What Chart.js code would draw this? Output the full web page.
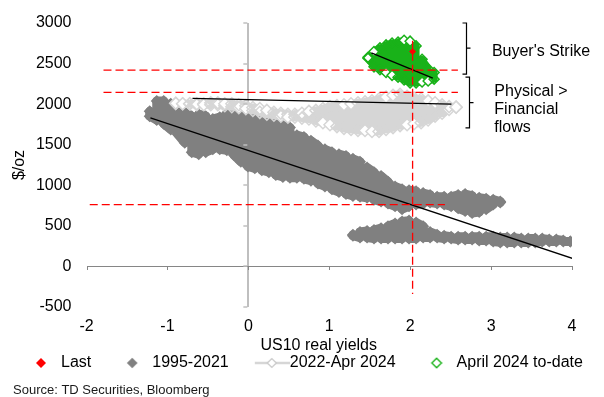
<!DOCTYPE html>
<html><head><meta charset="utf-8">
<script src="https://cdn.jsdelivr.net/npm/chart.js@4.4.1/dist/chart.umd.min.js"></script>
<style>html,body{margin:0;padding:0;background:#fff;}canvas{display:block;}</style>
</head><body>
<canvas id="c" width="604" height="397" style="width:604px;height:397px"></canvas>
<script>
const FONT = "'Liberation Sans', Arial, sans-serif";
Chart.defaults.font.family = FONT;
Chart.defaults.font.size = 16;
Chart.defaults.color = '#000';

// ---------- data ----------
const xTicks = [-2, -1, 0, 1, 2, 3, 4];
const yTicks = [-500, 0, 500, 1000, 1500, 2000, 2500, 3000];
const seriesNames = ['Last', '1995-2021', '2022-Apr 2024', 'April 2024 to-date'];

const lastPoint = [[2.03, 2648]];

// cloud readings: [real yield, upper gold level, lower gold level] per yield slice
const gold9521Upper = [[-1.219,1911,1852],[-1.132,2039,1805],[-1.046,2039,1758],[-0.959,2004,1688],[-0.873,1969,1630],[-0.786,1899,1525],[-0.699,1852,1408],[-0.613,1876,1384],[-0.526,1852,1408],[-0.439,1817,1443],[-0.353,1840,1443],[-0.266,1887,1431],[-0.179,1911,1372],[-0.093,1934,1291],[-0.006,1934,1232],[0.080,1911,1209],[0.167,1864,1185],[0.254,1817,1162],[0.340,1770,1127],[0.427,1735,1103],[0.514,1712,1092],[0.600,1618,1092],[0.687,1595,1080],[0.774,1548,1057],[0.860,1489,1021],[0.947,1443,986],[1.033,1408,951],[1.120,1384,916],[1.207,1361,893],[1.293,1326,869],[1.380,1291,858],[1.467,1220,846],[1.553,1162,823],[1.640,1115,799],[1.726,1045,776],[1.813,986,741],[1.900,951,706],[1.986,940,741],[2.073,928,764],[2.160,904,776],[2.246,881,787],[2.333,858,776],[2.420,858,764],[2.506,858,741],[2.593,881,717],[2.679,893,682],[2.766,869,659],[2.853,846,670],[2.939,834,706],[3.026,823,764],[3.113,799,787]];

const gold9521Lower = [[1.293,390,378],[1.380,425,355],[1.467,436,355],[1.553,448,343],[1.640,472,343],[1.726,495,343],[1.813,530,343],[1.900,553,343],[1.986,565,343],[2.073,542,343],[2.160,495,355],[2.246,425,355],[2.333,390,355],[2.420,378,343],[2.506,366,343],[2.593,366,331],[2.679,366,331],[2.766,366,331],[2.853,366,319],[2.939,366,319],[3.026,366,308],[3.113,355,296],[3.199,355,296],[3.286,355,296],[3.373,343,296],[3.459,343,296],[3.546,343,296],[3.632,343,308],[3.719,331,308],[3.806,331,308],[3.892,319,308],[3.979,308,308]];

const gold22Apr24 = [[-0.897,2010,2010],[-0.811,2005,2005],[-0.724,2005,2004],[-0.637,2005,1992],[-0.551,2005,1992],[-0.464,2016,1992],[-0.377,2016,1992],[-0.291,2005,1980],[-0.204,2005,1969],[-0.118,1993,1957],[-0.031,1981,1945],[0.056,1958,1922],[0.142,1946,1899],[0.229,1923,1875],[0.316,1899,1863],[0.402,1888,1852],[0.489,1876,1840],[0.575,1876,1840],[0.662,1888,1828],[0.749,1911,1817],[0.835,1923,1793],[0.922,1946,1770],[1.009,1970,1746],[1.095,1981,1723],[1.182,1993,1700],[1.269,2005,1688],[1.355,2016,1676],[1.442,2028,1676],[1.528,2040,1664],[1.615,2063,1664],[1.702,2087,1688],[1.788,2110,1711],[1.875,2122,1735],[1.962,2098,1746],[2.048,2075,1758],[2.135,2063,1770],[2.222,2040,1805],[2.308,2016,1852],[2.395,1993,1887],[2.481,1970,1934],[2.568,1963,1963]];

const goldApr24 = [[1.479,2577,2565],[1.553,2648,2460],[1.627,2694,2425],[1.702,2730,2390],[1.776,2753,2355],[1.850,2765,2332],[1.925,2788,2297],[1.999,2776,2262],[2.073,2718,2262],[2.147,2554,2273],[2.222,2437,2285],[2.296,2390,2308]];

const trend9521 = [[-1.21, 1830], [4.01, 97]];
const trend22Apr24 = [[-0.69, 2071], [2.51, 2000]];
const trendApr24 = [[1.52, 2633], [2.28, 2320]];

const buyersStrikeLevel = [[-1.79, 2420], [2.59, 2420]];
const physicalLevel = [[-1.79, 2145], [2.59, 2145]];
const fairValueLevel = [[-1.96, 762], [2.43, 762]];
const lastYieldLevel = [[2.03, 2780], [2.03, -340]];

const brackets = [
  {x: 2.69, top: 3000, mid: 2690, bottom: 2370},
  {x: 2.733, top: 2332, mid: 2019, bottom: 1708}
];
const notes = [
  {x: 3.01, y: 2651, text: "Buyer's Strike"},
  {x: 3.04, y: 2160, text: 'Physical >'},
  {x: 3.04, y: 1938, text: 'Financial'},
  {x: 3.04, y: 1716, text: 'flows'}
];
const xTitle = {x: 0.87, text: 'US10 real yields'};
const yTitle = '$/oz';
const sourceText = 'Source: TD Securities, Bloomberg';

// ---------- styling ----------
const DARK = '#808080', LIGHT = '#d6d6d6', GREEN = '#19b219', RED = '#ff0000';
const CLEAR = 'rgba(255,255,255,0)';
const pts = a => a.map(([x, y]) => ({x, y}));
// walk each cloud slice top->bottom, then bottom->top on the next slice
const snake = cols => cols.flatMap(([x, t, b], i) => i % 2 ? [{x, y: b}, {x, y: t}] : [{x, y: t}, {x, y: b}]);
const hollowEvery = n => c => (c.dataIndex % n === 0) ? '#ffffff' : CLEAR;

function legendImg(w, cx, half, fill, stroke, lw, line) {
  const c = document.createElement('canvas');
  c.width = w; c.height = 14;
  const g = c.getContext('2d'); const cy = 7;
  if (line) { g.strokeStyle = line.color; g.lineWidth = line.width; g.beginPath(); g.moveTo(line.from, cy); g.lineTo(line.to, cy); g.stroke(); }
  g.beginPath(); g.moveTo(cx - half, cy); g.lineTo(cx, cy - half); g.lineTo(cx + half, cy); g.lineTo(cx, cy + half); g.closePath();
  if (fill) { g.fillStyle = fill; g.fill(); }
  if (stroke) { g.strokeStyle = stroke; g.lineWidth = lw; g.stroke(); }
  return c;
}
const legendImgs = [
  legendImg(28, 22, 5, RED),
  legendImg(28, 22, 5.3, DARK),
  legendImg(56, 38, 4.5, '#fff', '#c8c8c8', 1.2, {color: LIGHT, width: 2.5, from: 21, to: 56}),
  legendImg(28, 22, 4.8, '#fff', GREEN, 1.3)
];

const lineDs = (data, color, width, dash, order) => ({
  data: pts(data), showLine: true, borderColor: color, borderWidth: width,
  borderDash: dash, pointRadius: 0, order: order
});

const overlay = {
  id: 'overlay',
  afterDraw(chart) {
    const {ctx} = chart; const xs = chart.scales.x, ys = chart.scales.y;
    const x0 = xs.getPixelForValue(0), y0 = Math.round(ys.getPixelForValue(0));
    ctx.save();
    ctx.lineWidth = 1; ctx.strokeStyle = '#868686';
    xTicks.forEach(v => { const p = Math.round(xs.getPixelForValue(v)) + 0.5; ctx.beginPath(); ctx.moveTo(p, y0); ctx.lineTo(p, y0 + 4); ctx.stroke(); });
    ctx.lineWidth = 1.5; ctx.strokeStyle = '#bfbfbf';
    yTicks.forEach(v => { const p = Math.round(ys.getPixelForValue(v)); ctx.beginPath(); ctx.moveTo(x0 - 5, p); ctx.lineTo(x0 - 1, p); ctx.stroke(); });
    ctx.strokeStyle = '#000'; ctx.lineWidth = 1.2;
    brackets.forEach(b => {
      const px = Math.round(xs.getPixelForValue(b.x)) + 0.5;
      const t = ys.getPixelForValue(b.top), m = ys.getPixelForValue(b.mid), bt = ys.getPixelForValue(b.bottom);
      ctx.beginPath(); ctx.moveTo(px - 4, t); ctx.lineTo(px, t); ctx.lineTo(px, bt); ctx.lineTo(px - 4, bt);
      ctx.moveTo(px, m); ctx.lineTo(px + 4, m); ctx.stroke();
    });
    ctx.fillStyle = '#000'; ctx.font = '16px ' + FONT; ctx.textBaseline = 'middle'; ctx.textAlign = 'left';
    notes.forEach(n => ctx.fillText(n.text, xs.getPixelForValue(n.x), ys.getPixelForValue(n.y)));
    ctx.textAlign = 'center';
    ctx.fillText(xTitle.text, xs.getPixelForValue(xTitle.x), xs.bottom + 4);
    ctx.font = '13px ' + FONT; ctx.textAlign = 'left'; ctx.fillStyle = '#1a1a1a';
    ctx.fillText(sourceText, 13, chart.height - 6.3);
    ctx.restore();
  }
};

new Chart(document.getElementById('c'), {
  type: 'scatter',
  data: {
    datasets: [
      {label: seriesNames[0], data: pts(lastPoint), pointStyle: 'rectRot', pointRadius: 3.5,
       backgroundColor: RED, borderColor: RED, pointBorderWidth: 0, order: 0},
      {label: seriesNames[1], data: [...snake(gold9521Upper), {x: null, y: null}, ...snake(gold9521Lower)],
       showLine: true, spanGaps: false, borderColor: DARK, backgroundColor: DARK, borderWidth: 9,
       borderJoinStyle: 'round', borderCapStyle: 'round', pointStyle: 'rectRot', pointRadius: 6,
       pointBorderWidth: 0, pointBackgroundColor: DARK, order: 5},
      {label: seriesNames[2], data: snake(gold22Apr24), showLine: true, borderColor: LIGHT, borderWidth: 8,
       borderJoinStyle: 'round', borderCapStyle: 'round', pointStyle: 'rectRot', pointRadius: 6,
       pointBorderWidth: 1.5, pointBorderColor: LIGHT, pointBackgroundColor: hollowEvery(3), order: 4},
      {label: seriesNames[3], data: snake(goldApr24), showLine: true, borderColor: GREEN, borderWidth: 7,
       borderJoinStyle: 'round', borderCapStyle: 'round', pointStyle: 'rectRot', pointRadius: 5,
       pointBorderWidth: 1.5, pointBorderColor: GREEN, pointBackgroundColor: hollowEvery(3), order: 3},
      lineDs(trend9521, '#000', 1.3, [], 2),
      lineDs(trend22Apr24, '#000', 1.3, [], 2),
      lineDs(trendApr24, '#000', 1.3, [], 2),
      lineDs(buyersStrikeLevel, RED, 1.3, [8, 4], 1),
      lineDs(physicalLevel, RED, 1.3, [8, 4], 1),
      lineDs(fairValueLevel, RED, 1.3, [8, 4], 1),
      lineDs(lastYieldLevel, RED, 1.3, [8, 4], 1)
    ]
  },
  options: {
    responsive: false, animation: false, devicePixelRatio: 1, events: [],
    layout: {padding: {left: 0, right: 0, top: 0, bottom: 16}},
    scales: {
      x: {
        type: 'linear', min: -2, max: 4, z: 1,
        ticks: {stepSize: 1, padding: 12, color: '#000', font: {size: 16, lineHeight: 1}, callback: v => String(v)},
        grid: {drawTicks: false,
               color: c => (c.tick && c.tick.value === 0) ? '#bfbfbf' : 'rgba(0,0,0,0)',
               lineWidth: c => (c.tick && c.tick.value === 0) ? 2 : 0},
        border: {display: false},
        afterFit: s => { s.height = 35; }
      },
      y: {
        type: 'linear', min: -500, max: 3000,
        ticks: {stepSize: 500, padding: 15, color: '#000', font: {size: 16, lineHeight: 1}, callback: v => String(v)},
        grid: {drawTicks: false,
               color: c => (c.tick && c.tick.value === 0) ? '#868686' : 'rgba(0,0,0,0)',
               lineWidth: c => (c.tick && c.tick.value === 0) ? 1 : 0},
        border: {display: false},
        title: {display: true, text: yTitle, color: '#000', font: {size: 16}, padding: {top: 10, bottom: 0}},
        afterFit: s => { s.width = 86.5; }
      },
      y2: {
        position: 'right', display: true,
        grid: {display: false}, ticks: {display: false}, border: {display: false},
        afterFit: s => { s.width = 32; }
      }
    },
    plugins: {
      tooltip: {enabled: false},
      legend: {
        position: 'bottom', align: 'start',
        labels: {
          usePointStyle: true, pointStyleWidth: 40, padding: 13,
          font: {size: 16}, color: '#000',
          generateLabels: chart => chart.data.datasets.slice(0, 4).map((d, i) => ({
            text: d.label, pointStyle: legendImgs[i], fillStyle: 'rgba(0,0,0,0)',
            strokeStyle: 'rgba(0,0,0,0)', lineWidth: 0, hidden: false, datasetIndex: i, fontColor: '#000'
          }))
        }
      }
    }
  },
  plugins: [overlay]
});
</script>
</body></html>
